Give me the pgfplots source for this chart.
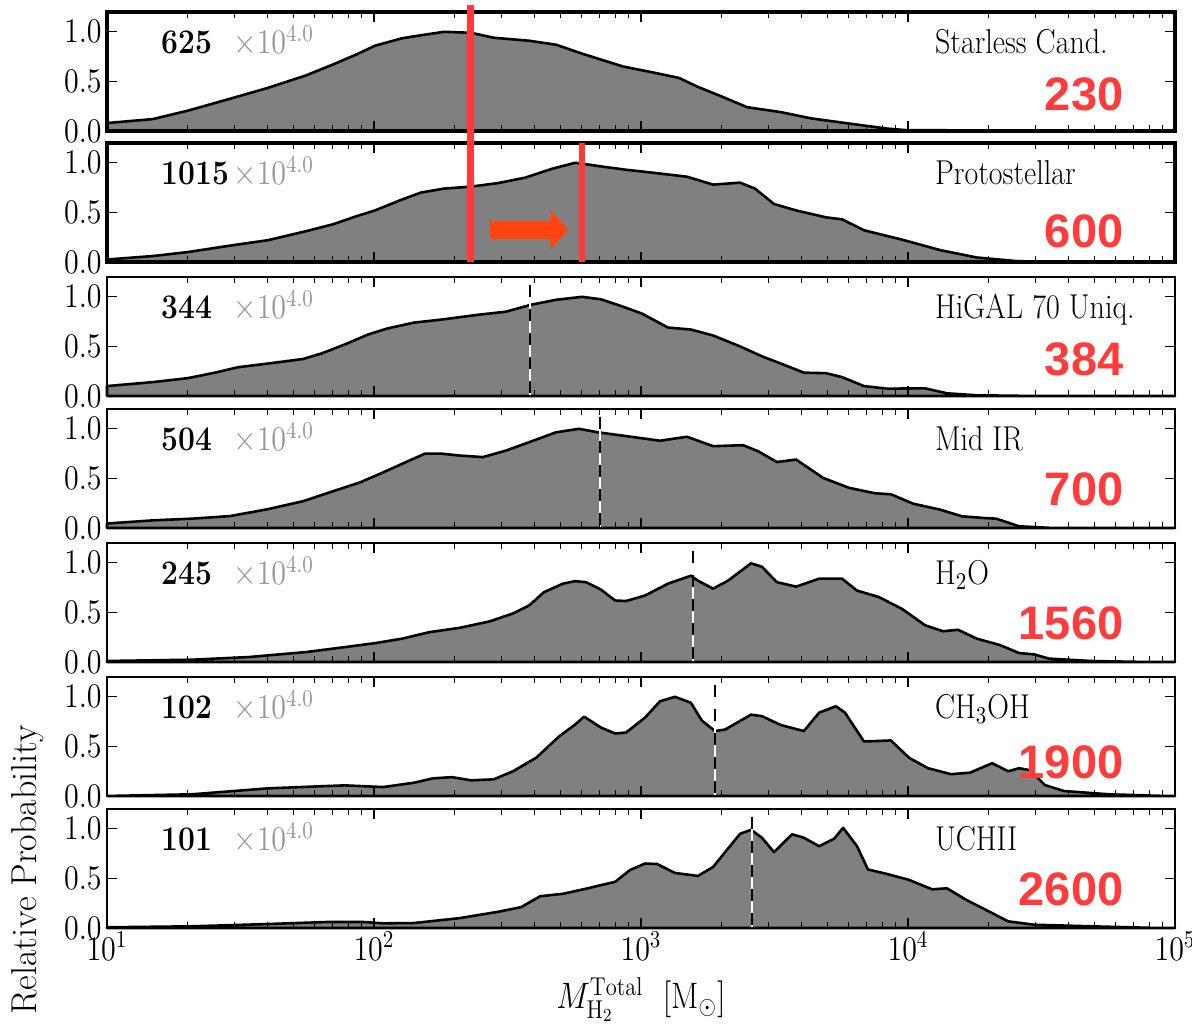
\RequirePackage{fix-cm}
\documentclass[border=0pt]{standalone}
\usepackage{fontspec}
\usepackage{graphicx}
\usepackage{pgfplots}
\usepackage{pgfplotstable}
\pgfplotsset{compat=1.18}
\usetikzlibrary{arrows.meta}
\newfontfamily\arialfont{Liberation Sans}
\newcommand{\vs}[1]{\scalebox{1}[1.15]{#1}}
\newcommand{\fs}{\fontsize{15}{17}\selectfont}
\definecolor{histgray}{RGB}{128,128,128}
\definecolor{tgray}{RGB}{150,150,150}
\definecolor{rednum}{RGB}{255,59,59}
\definecolor{redline}{RGB}{255,56,56}
\definecolor{arrowc}{RGB}{255,68,17}

\pgfplotstableread{
lm v
1.0 0.08
1.172 0.12
1.303 0.205
1.461 0.325
1.603 0.435
1.745 0.56
1.846 0.67
1.933 0.77
2.004 0.86
2.105 0.935
2.176 0.965
2.262 1.0
2.363 0.99
2.449 0.94
2.581 0.91
2.682 0.87
2.779 0.78
2.850 0.72
2.933 0.65
3.045 0.59
3.142 0.535
3.213 0.445
3.300 0.35
3.397 0.24
3.524 0.19
3.637 0.127
3.779 0.075
3.921 0.024
4.0 0.007
4.146 0.007
4.217 0.0
5.0 0.0
}\dataA
\pgfplotstableread{
lm v
1.0 0.025
1.172 0.06
1.303 0.10
1.461 0.165
1.603 0.22
1.745 0.31
1.846 0.38
1.933 0.46
2.004 0.52
2.105 0.63
2.176 0.70
2.262 0.74
2.363 0.76
2.464 0.795
2.566 0.85
2.667 0.94
2.753 1.0
2.809 0.98
2.846 0.965
2.944 0.93
3.045 0.90
3.172 0.86
3.270 0.78
3.371 0.80
3.427 0.74
3.498 0.585
3.581 0.52
3.693 0.45
3.753 0.43
3.835 0.32
3.978 0.225
4.120 0.12
4.258 0.045
4.401 0.01
4.513 0.0
5.0 0.0
}\dataB
\pgfplotstableread{
lm v
1.0 0.10
1.172 0.14
1.303 0.18
1.404 0.235
1.491 0.29
1.603 0.327
1.734 0.373
1.805 0.43
1.891 0.52
1.978 0.62
2.049 0.68
2.150 0.74
2.251 0.77
2.393 0.82
2.494 0.85
2.588 0.92
2.682 0.97
2.779 1.0
2.850 0.975
2.933 0.90
3.004 0.83
3.101 0.69
3.187 0.67
3.270 0.61
3.371 0.50
3.453 0.40
3.554 0.295
3.610 0.235
3.693 0.23
3.753 0.19
3.835 0.10
3.921 0.074
4.064 0.077
4.146 0.027
4.258 0.007
4.472 0.0
5.0 0.0
}\dataC
\pgfplotstableread{
lm v
1.0 0.045
1.172 0.077
1.318 0.094
1.461 0.12
1.603 0.19
1.734 0.27
1.846 0.37
1.948 0.46
2.034 0.56
2.120 0.665
2.191 0.75
2.251 0.75
2.322 0.73
2.408 0.715
2.494 0.78
2.581 0.865
2.682 0.965
2.768 1.0
2.839 0.965
2.989 0.91
3.071 0.88
3.172 0.92
3.270 0.825
3.382 0.835
3.438 0.775
3.509 0.665
3.581 0.69
3.682 0.505
3.779 0.405
3.876 0.35
3.936 0.34
4.019 0.245
4.120 0.185
4.202 0.118
4.288 0.10
4.330 0.094
4.416 0.017
4.543 0.0
5.0 0.0
}\dataD
\pgfplotstableread{
lm v
1.0 0.01
1.318 0.023
1.532 0.05
1.745 0.10
1.891 0.15
2.004 0.19
2.105 0.235
2.206 0.30
2.322 0.345
2.434 0.41
2.521 0.49
2.581 0.57
2.637 0.705
2.708 0.79
2.753 0.815
2.794 0.805
2.850 0.73
2.903 0.62
2.944 0.615
3.015 0.67
3.101 0.79
3.187 0.87
3.213 0.82
3.270 0.74
3.326 0.82
3.412 0.995
3.453 0.96
3.509 0.805
3.581 0.76
3.667 0.84
3.753 0.84
3.809 0.72
3.891 0.655
3.978 0.535
4.064 0.37
4.131 0.31
4.187 0.325
4.258 0.235
4.345 0.17
4.416 0.09
4.472 0.077
4.528 0.034
4.685 0.01
4.895 0.0
5.0 0.0
}\dataE
\pgfplotstableread{
lm v
1.0 0.0
1.318 0.017
1.603 0.077
1.820 0.10
1.891 0.107
2.034 0.09
2.150 0.134
2.221 0.178
2.292 0.19
2.363 0.158
2.449 0.168
2.521 0.25
2.607 0.385
2.693 0.60
2.753 0.72
2.787 0.80
2.850 0.69
2.903 0.63
2.944 0.64
3.015 0.79
3.071 0.955
3.127 1.0
3.187 0.94
3.228 0.76
3.277 0.655
3.315 0.67
3.412 0.82
3.453 0.805
3.524 0.715
3.610 0.655
3.667 0.84
3.730 0.905
3.764 0.84
3.835 0.55
3.891 0.555
3.936 0.56
4.004 0.385
4.075 0.28
4.161 0.22
4.232 0.235
4.315 0.33
4.375 0.25
4.416 0.28
4.457 0.26
4.513 0.11
4.584 0.05
4.753 0.017
4.966 0.0
5.0 0.0
}\dataF
\pgfplotstableread{
lm v
1.0 0.007
1.318 0.017
1.603 0.04
1.820 0.06
1.963 0.06
2.034 0.047
2.150 0.05
2.322 0.10
2.464 0.163
2.551 0.21
2.622 0.32
2.708 0.345
2.809 0.405
2.846 0.43
2.903 0.465
2.959 0.585
3.015 0.65
3.060 0.645
3.127 0.555
3.213 0.525
3.270 0.615
3.315 0.765
3.371 0.95
3.412 0.99
3.453 0.91
3.498 0.765
3.566 0.945
3.610 0.91
3.667 0.825
3.723 0.90
3.757 1.01
3.809 0.825
3.850 0.59
3.921 0.545
4.004 0.485
4.090 0.39
4.146 0.40
4.217 0.285
4.303 0.167
4.375 0.067
4.472 0.033
4.685 0.017
4.936 0.0
5.0 0.0
}\dataG

\pgfplotsset{
  /pgfplots/mypanel/.style={
    width=534pt, height=59.5pt, scale only axis, anchor=south west,
    xmin=10, xmax=1e5, ymin=0, ymax=1.2,
    xtick={10,100,1000,10000,100000}, xticklabels={},
    minor xtick={20,30,40,50,60,70,80,90,200,300,400,500,600,700,800,900,2000,3000,4000,5000,6000,7000,8000,9000,20000,30000,40000,50000,60000,70000,80000,90000},
    ytick={0,0.5,1}, yticklabels={\vs{$0.0$},\vs{$0.5$},\vs{$1.0$}},
    tick align=inside, xtick pos=both, ytick pos=both,
    major tick length=5pt, minor tick length=3pt,
    every tick/.style={black, line width=0.6pt},
    axis line style={line width=1.25pt},
    tick label style={font=\fs},
    yticklabel style={inner sep=2.5pt},
    xticklabel style={inner sep=2pt},
    clip=false, axis on top,
  },
  /pgfplots/mythick/.style={axis line style={line width=2pt}},
  /pgfplots/myhist/.style={fill=histgray, draw=black, line width=1.3pt, line join=round},
}
\newcommand{\paneltext}[4]{%
  \node[anchor=base west, inner sep=0pt, font=\fs\bfseries] at (rel axis cs:0.0506,0.65) {\vs{#1}};
  \node[anchor=base west, inner sep=0pt, font=\fs, text=tgray] at (rel axis cs:0.118,0.65) {\vs{$\times10^{4.0}$}};
  \node[anchor=base west, inner sep=0pt, font=\fs] at (rel axis cs:0.775,0.65) {\vs{#2}};
  \node[anchor=base east, inner sep=0pt, font=\arialfont\bfseries\fontsize{23.5}{26}\selectfont, text=rednum] at (rel axis cs:0.952,#4) {#3};
}
\newcommand{\median}[1]{%
  \draw[black, line width=1pt, dash pattern=on 6pt off 6pt] (axis cs:#1,1.12) -- (axis cs:#1,0);
  \draw[white, line width=1pt, dash pattern=on 6pt off 6pt, dash phase=6pt] (axis cs:#1,1.12) -- (axis cs:#1,0);
}

\begin{document}
\begin{tikzpicture}
\useasboundingbox (0,0) rectangle (596pt,513pt);

\begin{axis}[xmode=log, mypanel, mythick, at={(53.5pt,447.5pt)}]
  \addplot[myhist] table[x expr={10^(\thisrow{lm})}, y=v] {\dataA} \closedcycle;
  \paneltext{625}{Starless Cand.}{230}{0.17}
\end{axis}

\begin{axis}[xmode=log, mypanel, mythick, at={(53.5pt,382pt)}]
  \addplot[myhist] table[x expr={10^(\thisrow{lm})}, y=v] {\dataB} \closedcycle;
  \paneltext{1015}{Protostellar}{600}{0.12}
  \coordinate (rA0) at (axis cs:230,0);
  \coordinate (rA1) at (axis cs:230,2.59);
  \coordinate (rB0) at (axis cs:600,0);
  \coordinate (rB1) at (axis cs:600,1.2);
  \coordinate (arS) at (axis cs:272,0.325);
  \coordinate (arE) at (axis cs:535,0.325);
\end{axis}

\begin{axis}[xmode=log, mypanel, at={(53.5pt,315pt)}]
  \addplot[myhist] table[x expr={10^(\thisrow{lm})}, y=v] {\dataC} \closedcycle;
  \median{384}
  \paneltext{344}{HiGAL 70 Uniq.}{384}{0.17}
\end{axis}

\begin{axis}[xmode=log, mypanel, at={(53.5pt,249pt)}]
  \addplot[myhist] table[x expr={10^(\thisrow{lm})}, y=v] {\dataD} \closedcycle;
  \median{700}
  \paneltext{504}{Mid IR}{700}{0.19}
\end{axis}

\begin{axis}[xmode=log, mypanel, at={(53.5pt,182pt)}]
  \addplot[myhist] table[x expr={10^(\thisrow{lm})}, y=v] {\dataE} \closedcycle;
  \median{1560}
  \paneltext{245}{H$_2$O}{1560}{0.185}
\end{axis}

\begin{axis}[xmode=log, mypanel, at={(53.5pt,115pt)}]
  \addplot[myhist] table[x expr={10^(\thisrow{lm})}, y=v] {\dataF} \closedcycle;
  \median{1900}
  \paneltext{102}{CH$_3$OH}{1900}{0.15}
\end{axis}

\begin{axis}[xmode=log, mypanel, at={(53.5pt,49pt)},
  xticklabels={\vs{$10^{1}$},\vs{$10^{2}$},\vs{$10^{3}$},\vs{$10^{4}$},\vs{$10^{5}$}}]
  \addplot[myhist] table[x expr={10^(\thisrow{lm})}, y=v] {\dataG} \closedcycle;
  \median{2600}
  \paneltext{101}{UCHII}{2600}{0.185}
\end{axis}

\draw[redline, line width=3.2pt] (rA0) -- (rA1);
\draw[redline, line width=3.2pt] (rB0) -- (rB1);
\draw[arrowc, line width=9pt, -{Triangle[length=9pt,width=19pt]}] (arS) -- (arE);

\node[anchor=base, inner sep=0pt, font=\fontsize{16}{18}\selectfont] at (320.5pt,8.5pt) {\vs{$M_{\mathrm{H_2}}^{\mathrm{Total}}\ \ [\mathrm{M}_\odot]$}};
\node[rotate=90, inner sep=0pt, font=\fontsize{18}{20}\selectfont] at (14pt,78pt) {Relative Probability};
\end{tikzpicture}
\end{document}
